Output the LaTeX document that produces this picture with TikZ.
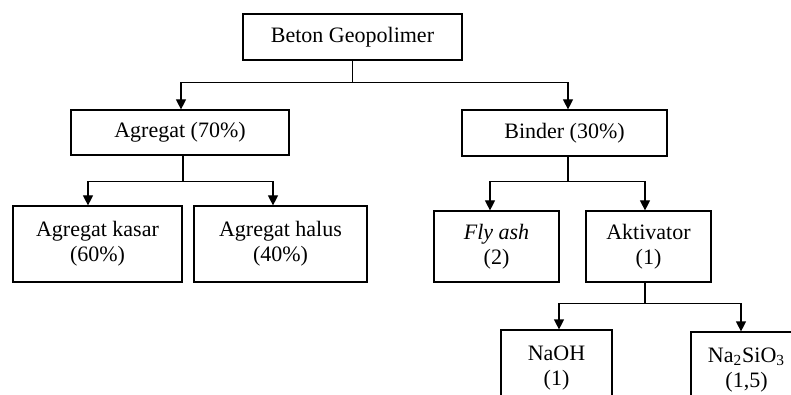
\documentclass[tikz,border=0pt]{standalone}
\usepackage{fontspec}
\setmainfont{Liberation Serif}
\usetikzlibrary{arrows.meta,calc}

\begin{document}
\begin{tikzpicture}[x=0.5pt,y=-0.5pt,>={Triangle[length=5pt,width=5pt]},
	box/.style={draw,line width=0.6pt,inner sep=0pt,align=center,font=\fontsize{11}{12.6}\selectfont},
	link/.style={line width=0.6pt}]
	\useasboundingbox (0,0) rectangle (791,395);
	\fill[white] (0,0) rectangle (791,395);
	\clip (0,0) rectangle (791,395);
	% boxes
	\node[box,minimum width=109.5pt,minimum height=23pt] (beton) at (352.5,37) {Beton Geopolimer};
	\node[box,minimum width=109pt,minimum height=22.5pt] (agregat) at (180,132.5) {Agregat (70\%)};
	\node[box,minimum width=102.5pt,minimum height=23pt] (binder) at (564.5,133) {Binder (30\%)};
	\node[box,minimum width=84.5pt,minimum height=38pt] (kasar) at (97.5,244) {Agregat kasar\\(60\%)};
	\node[box,minimum width=86.5pt,minimum height=38pt] (halus) at (280.5,244) {Agregat halus\\(40\%)};
	\node[box,minimum width=62.5pt,minimum height=35.5pt] (flyash) at (496.5,246.5) {\textit{Fly ash}\\(2)};
	\node[box,minimum width=62.5pt,minimum height=35.5pt] (aktivator) at (648.5,246.5) {Aktivator\\(1)};
	\node[box,minimum width=55.5pt,minimum height=38pt] (naoh) at (556.5,368) {NaOH\\(1)};
	\node[box,minimum width=55.5pt,minimum height=38pt] (nasio) at (746.5,370) {Na\textsubscript{2}SiO\textsubscript{3}\\(1,5)};
	% connectors
	\draw[link,->] (beton.south) -- ++(0,22) -| ($(agregat.north)+(1,0)$);
	\draw[link,->] (beton.south) -- ++(0,22) -| ($(binder.north)+(3.5,0)$);
	\draw[link,->] ($(agregat.south)+(3,0)$) -- ++(0,26) -| ($(kasar.north)+(-9.5,0)$);
	\draw[link,->] ($(agregat.south)+(3,0)$) -- ++(0,26) -| ($(halus.north)+(-7.5,0)$);
	\draw[link,->] ($(binder.south)+(3.5,0)$) -- ++(0,25) -| ($(flyash.north)+(-6.5,0)$);
	\draw[link,->] ($(binder.south)+(3.5,0)$) -- ++(0,25) -| ($(aktivator.north)+(-3.5,0)$);
	\draw[link,->] ($(aktivator.south)+(-3.5,0)$) -- ++(0,21) -| ($(naoh.north)+(2.5,0)$);
	\draw[link,->] ($(aktivator.south)+(-3.5,0)$) -- ++(0,21) -| ($(nasio.north)+(-5.5,0)$);
\end{tikzpicture}
\end{document}
